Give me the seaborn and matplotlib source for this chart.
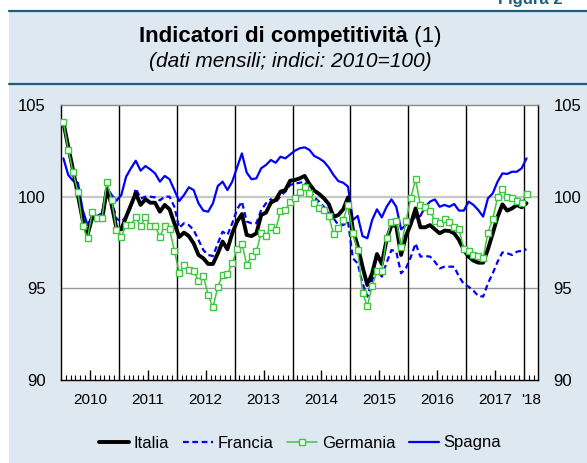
import numpy as np
import pandas as pd
import matplotlib
matplotlib.use("Agg")
import matplotlib.pyplot as plt
from matplotlib.patches import Rectangle
from matplotlib.lines import Line2D
from matplotlib.ticker import MultipleLocator
import seaborn as sns

sns.set_style("white")
plt.rcParams['font.family'] = ['Liberation Sans', 'DejaVu Sans']
plt.rcParams['text.color'] = 'black'
plt.rcParams['xtick.color'] = 'black'
plt.rcParams['ytick.color'] = 'black'

# monthly data, Jan 2010 - Jan 2018 (indici 2010=100)
italia = [104.05, 102.73, 101.45, 100.09, 98.73, 97.91, 98.9, 98.73, 98.73, 100.4, 99.55, 98.27,
          98.22, 98.9, 99.55, 100.18, 99.55, 99.86, 99.67, 99.67, 99.18, 99.55, 99.31, 98.55,
          97.8, 98.04, 97.85, 97.45, 96.82, 96.64, 96.33, 96.33, 96.9, 97.55, 97.13, 98.0,
          98.64, 99.05, 97.91, 97.85, 98.0, 99.0, 99.13, 99.67, 99.82, 100.27, 100.36, 100.87,
          100.91, 101.0, 101.13, 100.69, 100.33, 100.15, 99.91, 99.6, 98.9, 99.0, 99.31, 99.96,
          98.22, 97.31, 96.18, 95.18, 95.82, 96.87, 96.33, 97.67, 98.45, 98.4, 96.82, 97.85,
          98.5, 99.36, 98.33, 98.33, 98.45, 98.22, 98.0, 98.15, 98.13, 98.0, 97.64, 97.09,
          96.73, 96.51, 96.4, 96.4, 97.13, 98.0, 98.9, 99.58, 99.24, 99.36, 99.55, 99.42,
          99.64]
francia = [104.0, 102.6, 101.4, 100.2, 98.8, 98.1, 99.0, 98.6, 98.8, 100.5, 99.8, 98.8,
           98.64, 98.9, 99.4, 100.45, 99.9, 100.0, 100.0, 99.96, 99.8, 100.0, 100.0, 99.45,
           98.3, 98.55, 98.45, 98.18, 97.64, 97.09, 96.82, 96.76, 97.45, 98.09, 97.91, 98.55,
           99.31, 99.73, 98.64, 98.55, 98.55, 99.27, 99.64, 99.86, 99.67, 100.04, 100.27, 100.64,
           100.71, 100.76, 100.82, 100.36, 99.96, 99.73, 99.45, 99.09, 98.82, 98.45, 98.45, 98.64,
           96.64, 96.36, 95.27, 94.55, 95.45, 96.0, 95.64, 96.4, 97.09, 97.0, 95.82, 96.1,
           96.7, 97.45, 96.73, 96.76, 96.73, 96.45, 96.09, 96.18, 96.18, 96.18, 95.64, 95.24,
           95.09, 94.87, 94.58, 94.55, 95.27, 95.82, 96.45, 96.96, 96.91, 96.82, 97.0, 97.05,
           97.13]
germania = [104.05, 102.55, 101.33, 100.27, 98.4, 97.73, 99.18, 98.82, 98.82, 100.82, 99.82, 98.18,
            97.82, 98.45, 98.45, 98.9, 98.4, 98.9, 98.42, 98.4, 97.82, 98.42, 98.22, 97.05,
            95.85, 96.25, 96.02, 95.95, 95.4, 95.67, 94.64, 93.96, 95.07, 95.74, 95.77, 96.38,
            97.12, 97.44, 96.3, 96.75, 97.03, 98.04, 97.85, 98.36, 98.2, 99.21, 99.25, 99.7,
            99.93, 100.27, 100.55, 100.22, 99.67, 99.4, 99.27, 98.95, 97.96, 98.27, 98.73, 99.55,
            98.04, 97.09, 94.76, 94.02, 95.13, 95.93, 95.93, 97.76, 98.64, 98.67, 97.27, 98.65,
            99.93, 100.94, 99.55, 99.45, 99.22, 98.69, 98.55, 98.78, 98.64, 98.33, 98.24, 97.15,
            97.04, 96.8, 96.76, 96.64, 98.04, 98.78, 99.96, 100.42, 99.96, 99.91, 99.78, 99.67,
            100.15]
spagna = [102.09, 101.18, 100.87, 100.76, 99.27, 98.45, 98.95, 98.95, 99.09, 100.51, 100.09, 99.78,
          100.09, 101.09, 101.55, 101.96, 101.42, 101.67, 101.49, 101.27, 100.82, 101.13, 100.95, 100.36,
          99.76, 100.09, 100.51, 100.36, 99.64, 99.24, 99.18, 99.64, 100.58, 100.82, 100.36, 100.82,
          101.6, 102.36, 101.31, 100.95, 101.0, 101.55, 101.73, 102.0, 101.85, 102.18, 102.09, 102.3,
          102.51, 102.64, 102.69, 102.55, 102.22, 102.09, 101.91, 101.6, 101.18, 100.85, 100.76, 100.55,
          98.73, 98.95, 97.85, 97.73, 98.73, 99.31, 98.87, 99.45, 99.85, 99.45, 98.22, 98.45,
          98.64, 98.91, 98.95, 99.45, 99.73, 99.85, 99.45, 99.55, 99.45, 99.6, 99.24, 99.24,
          99.73, 99.55, 99.27, 98.91, 99.91, 100.18, 100.82, 101.27, 101.24, 101.36, 101.36, 101.55,
          102.09]
year_labels = ['2010', '2011', '2012', '2013', '2014', '2015', '2016', '2017', "'18"]

n = len(italia)
t = 2010 + (np.arange(n) + 0.5) / 12
df = pd.DataFrame({'t': t, 'Italia': italia, 'Francia': francia,
                   'Germania': germania, 'Spagna': spagna})

bg = '#dde8f1'
teal = '#1b5e80'
green = '#3ec83e'
blue = '#0000ff'
dash = (0, (2.6, 1.6))

fig = plt.figure(figsize=(5.87, 4.63), dpi=100)
fig.patch.set_facecolor('white')
fig.patches.append(Rectangle((9 / 587, 0), 1, 1 - 11 / 463, transform=fig.transFigure,
                             facecolor=bg, edgecolor='none', zorder=-10))
for yy in (11, 84):
    fig.lines.append(Line2D([9 / 587, 1], [1 - yy / 463] * 2, transform=fig.transFigure,
                            color=teal, lw=1.6))
fig.text(498 / 587, 1 - 4 / 463, 'Figura 2', fontsize=12, fontweight='bold', color=teal,
         ha='left', va='baseline')

# title: bold part + regular "(1)"
ty = 1 - 42 / 463
t1 = fig.text(0.5, ty, 'Indicatori di competitività', fontsize=16, fontweight='bold',
              ha='left', va='baseline')
t2 = fig.text(0.5, ty, ' (1)', fontsize=16, ha='left', va='baseline')
r = fig.canvas.get_renderer()
w1 = t1.get_window_extent(r).width / fig.bbox.width
w2 = t2.get_window_extent(r).width / fig.bbox.width
x0 = 0.495 - (w1 + w2) / 2
t1.set_x(x0)
t2.set_x(x0 + w1)
fig.text(0.495, 1 - 67 / 463, '(dati mensili; indici: 2010=100)', fontsize=15, style='italic',
         ha='center', va='baseline')

ax = fig.add_axes([61 / 587, 83 / 463, 477 / 587, 275 / 463])
ax.set_facecolor('white')

sns.lineplot(data=df, x='t', y='Spagna', ax=ax, color=blue, linewidth=1.6, zorder=3)
sns.lineplot(data=df, x='t', y='Francia', ax=ax, color=blue, linewidth=1.6,
             linestyle=dash, zorder=4)
sns.lineplot(data=df, x='t', y='Italia', ax=ax, color='black', linewidth=2.8, zorder=5)
sns.lineplot(data=df, x='t', y='Germania', ax=ax, color=green, linewidth=1.1, marker='s',
             markersize=3.8, markerfacecolor='white', markeredgecolor=green,
             markeredgewidth=1.0, zorder=6)

ax.set_xlim(2010, 2018.24)
ax.set_ylim(90, 105)
for yv, c, lw in ((95, '#999999', 1.0), (100, '#c8c8c8', 1.6)):
    ax.axhline(yv, color=c, lw=lw, zorder=1)
for yr in range(2011, 2019):
    ax.axvline(yr, color='black', lw=1.0, zorder=2)

ax.set_xlabel('')
ax.set_ylabel('')
mids = [2010.5 + k for k in range(8)] + [2018.12]
ax.set_xticks(mids)
ax.set_xticklabels(year_labels)
ax.xaxis.set_minor_locator(MultipleLocator(1 / 12))
ax.tick_params(axis='x', which='major', direction='in', length=7, width=1,
               labelsize=11, pad=9, bottom=True)
ax.tick_params(axis='x', which='minor', direction='in', length=3.5, width=0.8,
               bottom=True)
# no major tick mark for the partial 2018 label
ax.xaxis.get_major_ticks()[-1].tick1line.set_visible(False)

ax.set_yticks([90, 95, 100, 105])
ax.tick_params(axis='y', length=0, labelsize=12, pad=11, labelleft=True, labelright=True)

for s in ('left', 'bottom', 'right'):
    ax.spines[s].set_color('black')
    ax.spines[s].set_linewidth(1.0)
ax.spines['top'].set_color('#888888')
ax.spines['top'].set_linewidth(1.0)

handles = [
    Line2D([], [], color='black', lw=2.8),
    Line2D([], [], color=blue, lw=1.6, linestyle=dash),
    Line2D([], [], color=green, lw=1.1, marker='s', markersize=3.8,
           markerfacecolor='white', markeredgecolor=green),
    Line2D([], [], color=blue, lw=1.6),
]
fig.legend(handles, ['Italia', 'Francia', 'Germania', 'Spagna'], loc='center',
           bbox_to_anchor=(300 / 587, 1 - 443 / 463), ncol=4, frameon=False, fontsize=12,
           handlelength=1.8, handletextpad=0.3, columnspacing=0.8)

fig.savefig('out.png', dpi=100)
